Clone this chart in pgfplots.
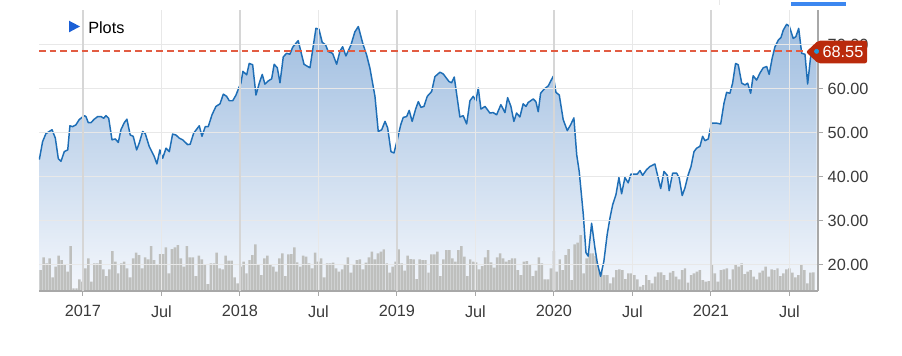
\documentclass[border=0pt]{standalone}
\usepackage{fontspec}
\setmainfont{Liberation Sans}
\usepackage{pgfplots}
\pgfplotsset{compat=1.18}
\usepackage{pgfplotstable}

\definecolor{linec}{RGB}{30,110,182}
\definecolor{areatop}{RGB}{160,190,224}
\definecolor{areabot}{RGB}{244,247,252}
\definecolor{volc}{RGB}{190,191,189}
\definecolor{refred}{RGB}{226,92,66}
\definecolor{callout}{RGB}{186,42,12}
\definecolor{tickc}{RGB}{58,58,58}
\definecolor{gridlight}{RGB}{232,232,232}
\definecolor{gridyear}{RGB}{214,214,214}
\definecolor{axisc}{RGB}{168,168,168}
\definecolor{legblue}{RGB}{26,95,214}
\definecolor{topblue}{RGB}{60,135,240}
\definecolor{dotc}{RGB}{30,155,225}

\pgfplotstableread{
t p
2016.722 43.9
2016.743 48.0
2016.764 49.8
2016.803 50.7
2016.824 48.8
2016.843 44.1
2016.860 43.5
2016.881 45.7
2016.903 46.1
2016.917 51.6
2016.934 51.4
2016.955 51.8
2016.976 53.0
2017.008 53.9
2017.019 53.7
2017.034 52.3
2017.051 52.3
2017.072 53.1
2017.094 53.7
2017.115 53.7
2017.132 53.3
2017.146 53.9
2017.164 53.3
2017.185 48.4
2017.206 48.6
2017.225 47.8
2017.242 50.7
2017.263 52.3
2017.280 53.1
2017.301 49.5
2017.320 49.2
2017.342 46.1
2017.359 47.7
2017.380 50.3
2017.397 49.8
2017.422 46.9
2017.454 44.6
2017.471 42.9
2017.490 46.1
2017.508 44.2
2017.529 46.5
2017.550 45.7
2017.571 49.7
2017.592 49.5
2017.613 48.8
2017.635 48.4
2017.667 47.3
2017.683 47.4
2017.705 49.9
2017.741 51.6
2017.758 49.2
2017.779 51.4
2017.798 51.4
2017.822 54.1
2017.847 56.0
2017.873 56.6
2017.894 58.8
2017.915 58.3
2017.932 57.3
2017.954 57.3
2017.975 58.6
2017.992 60.2
2018.006 61.3
2018.019 64.0
2018.043 63.2
2018.059 65.8
2018.081 65.5
2018.102 58.6
2018.123 61.3
2018.142 63.3
2018.159 61.1
2018.180 61.8
2018.202 62.3
2018.218 65.6
2018.238 64.8
2018.255 61.4
2018.276 67.3
2018.297 68.1
2018.318 67.9
2018.336 69.5
2018.371 71.0
2018.408 65.6
2018.446 64.8
2018.484 73.8
2018.503 73.6
2018.524 70.6
2018.546 70.0
2018.562 68.5
2018.590 68.1
2018.616 65.6
2018.637 68.6
2018.654 69.6
2018.675 67.5
2018.707 70.0
2018.732 73.0
2018.754 74.2
2018.782 70.4
2018.807 67.7
2018.828 64.7
2018.860 58.3
2018.881 50.3
2018.903 50.7
2018.924 52.6
2018.941 51.1
2018.962 45.7
2018.981 45.4
2019.002 48.4
2019.024 51.8
2019.040 53.5
2019.062 53.7
2019.078 55.1
2019.097 52.6
2019.119 55.4
2019.136 57.1
2019.153 55.8
2019.172 56.0
2019.193 58.3
2019.221 59.4
2019.242 62.8
2019.274 63.8
2019.295 63.4
2019.331 61.7
2019.348 61.4
2019.365 62.7
2019.401 53.6
2019.422 53.9
2019.444 52.0
2019.465 57.3
2019.486 58.3
2019.503 57.3
2019.518 60.2
2019.535 55.4
2019.561 56.0
2019.592 54.5
2019.613 54.6
2019.635 54.1
2019.662 56.4
2019.688 54.6
2019.705 58.0
2019.726 56.0
2019.745 52.6
2019.762 54.5
2019.783 53.6
2019.804 56.6
2019.822 56.0
2019.836 56.9
2019.868 57.7
2019.885 57.1
2019.900 54.8
2019.915 59.0
2019.936 59.9
2019.964 60.7
2019.996 62.9
2020.013 59.2
2020.034 58.6
2020.059 53.0
2020.085 50.5
2020.106 51.8
2020.127 53.4
2020.145 45.0
2020.161 41.2
2020.187 31.4
2020.204 22.7
2020.218 21.9
2020.240 29.4
2020.261 23.8
2020.276 20.4
2020.297 17.3
2020.318 20.7
2020.339 26.8
2020.357 30.6
2020.374 33.6
2020.395 35.9
2020.414 39.8
2020.431 36.1
2020.452 39.8
2020.473 38.6
2020.490 40.6
2020.516 40.6
2020.531 40.6
2020.548 41.4
2020.565 40.3
2020.590 41.6
2020.611 42.3
2020.643 42.9
2020.680 37.3
2020.701 41.2
2020.722 40.3
2020.734 36.8
2020.756 40.8
2020.782 40.8
2020.798 39.7
2020.817 35.7
2020.834 37.4
2020.855 40.4
2020.873 42.3
2020.892 45.7
2020.909 46.5
2020.930 46.9
2020.947 49.2
2020.962 48.2
2020.983 48.6
2021.004 52.2
2021.036 52.2
2021.062 52.0
2021.083 56.7
2021.100 59.2
2021.121 59.0
2021.138 61.3
2021.157 65.8
2021.174 65.5
2021.196 61.3
2021.217 60.9
2021.234 61.3
2021.253 59.0
2021.269 63.0
2021.291 62.0
2021.312 63.6
2021.333 64.8
2021.355 65.1
2021.371 63.3
2021.390 67.0
2021.408 69.6
2021.429 71.1
2021.446 71.7
2021.461 73.4
2021.482 74.7
2021.499 74.3
2021.524 71.5
2021.541 71.9
2021.559 73.8
2021.578 68.1
2021.599 67.9
2021.616 61.1
2021.635 67.3
2021.673 68.55
}\price

\pgfplotstableread{
v
63
101
83
98
41
73
106
93
78
58
135
8
8
35
28
68
98
28
83
83
93
65
45
65
120
88
53
83
88
68
41
98
115
108
68
101
95
135
93
78
111
111
131
53
126
131
138
98
73
135
101
101
45
106
95
78
21
83
83
115
68
65
106
91
91
41
23
73
88
53
93
108
140
78
48
98
106
78
73
58
98
113
45
110
111
131
86
73
106
103
83
68
115
88
98
41
83
83
85
68
58
65
78
101
55
78
93
95
65
85
101
118
95
113
118
125
83
55
73
88
125
83
61
106
96
95
36
95
93
93
55
110
110
118
45
95
123
123
98
88
123
135
103
45
95
88
86
65
75
101
123
86
70
101
113
98
88
93
98
98
63
48
88
90
78
45
61
101
83
35
35
68
120
58
95
63
108
126
33
140
145
168
53
98
113
113
105
103
63
48
48
23
41
63
65
63
36
53
53
48
35
13
18
48
33
23
43
56
56
48
33
55
60
43
35
63
68
25
48
53
58
63
33
28
30
78
53
28
63
65
68
35
65
78
73
83
51
58
63
43
35
55
61
73
43
65
63
68
45
53
65
68
55
41
48
78
63
23
55
56
}\vol

\begin{document}
\begin{tikzpicture}
\begin{axis}[
  at={(0,0)}, anchor=south west,
  scale only axis, width=584.25pt, height=210.75pt,
  xmin=2016.720, xmax=2021.682, ymin=13.96, ymax=77.97,
  axis on top,
  axis x line*=bottom, axis y line*=right,
  axis line style={draw=axisc, line width=0.8pt},
  xtick={2017.5,2018.5,2019.5,2020.5,2021.5},
  xticklabels={Jul,Jul,Jul,Jul,Jul},
  extra x ticks={2017,2018,2019,2020,2021},
  extra x tick labels={2017,2018,2019,2020,2021},
  extra x tick style={major grid style={draw=gridyear, line width=1pt}},
  ytick={20,30,40,50,60,70},
  yticklabels={20.00,30.00,40.00,50.00,60.00,70.00},
  grid=major,
  major grid style={draw=gridlight, line width=0.75pt},
  tick align=outside,
  major tick length=3.75pt,
  tick style={draw=axisc, line width=0.75pt},
  tick label style={font=\fontsize{12.2}{14}\selectfont, text=tickc},
  xticklabel style={yshift=-3.5pt},
]
\addplot[draw=none, top color=areatop, bottom color=areabot] table[x=t, y=p] {\price} \closedcycle;
\addplot[ybar, bar width=1.85pt, fill=volc, draw=none] table[x index=0, y index=0, x expr=2016.731+\coordindex*0.019, y expr=13.96+\thisrow{v}*0.0759] {\vol};
\addplot[draw=none, fill=white] table[x=t, y=p] {\price} -- (axis cs:2021.673,77.97) -- (axis cs:2016.722,77.97) -- cycle;
\addplot[linec, mark=none, line width=1.1pt, line join=round] table[x=t, y=p] {\price};
\end{axis}
% callout
\fill[callout, rounded corners=1.5pt] (575.25pt,179.25pt) -- (584.25pt,187.7pt) -- (621pt,187.7pt) -- (621pt,170.8pt) -- (584.25pt,170.8pt) -- cycle;
\node[anchor=west, inner sep=0pt, text=white, font=\fontsize{12.2}{14}\selectfont] at (587.5pt,179.25pt) {68.55};
% legend
\fill[legblue] (22.5pt,202.7pt) -- (30.75pt,198.4pt) -- (22.5pt,194pt) -- cycle;
\node[anchor=base west, inner sep=0pt, font=\fontsize{12.2}{14}\selectfont] at (36.75pt,193.3pt) {Plots};
% top decorations
\fill[topblue] (564pt,213.75pt) rectangle (605.25pt,216.5pt);
\draw[gridlight, line width=0.6pt] (510pt,214.5pt) -- (510pt,218.25pt);
\begin{axis}[
  at={(0,0)}, anchor=south west,
  scale only axis, width=584.25pt, height=210.75pt,
  xmin=2016.720, xmax=2021.682, ymin=13.96, ymax=77.97,
  hide axis, clip=false,
]
\addplot[refred, mark=none, line width=1.5pt, dash pattern=on 5pt off 3pt] coordinates {(2016.720,68.55) (2021.605,68.55)};
\addplot[only marks, mark=*, mark size=1.6pt, mark options={fill=dotc, draw=dotc}] coordinates {(2021.673,68.55)};
\end{axis}
\pgfresetboundingbox
\useasboundingbox (-29.25pt,-48.75pt) rectangle (647.25pt,218.25pt);
\end{tikzpicture}
\end{document}
